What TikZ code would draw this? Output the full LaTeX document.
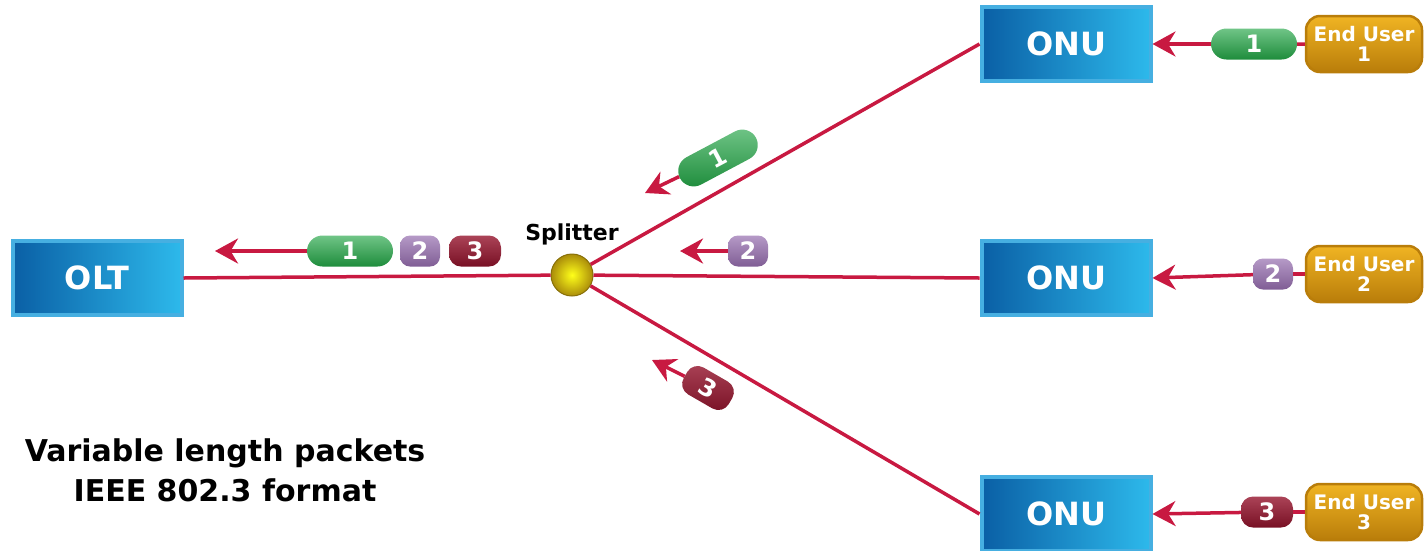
\documentclass[tikz,border=0pt]{standalone}
\usepackage{fontspec}
\setmainfont{DejaVu Sans}
\usetikzlibrary{positioning}
\usetikzlibrary{arrows.meta,shapes.misc}
\usepackage{color}

\definecolor{fibre}{RGB}{200,25,65}
\definecolor{boxdark}{RGB}{10,95,165}
\definecolor{boxlight}{RGB}{45,185,235}
\definecolor{boxrim}{RGB}{70,175,225}
\definecolor{pktgreen}{RGB}{35,165,70}
\definecolor{pktpurple}{RGB}{150,110,175}
\definecolor{pktred}{RGB}{150,20,45}
\definecolor{userlight}{RGB}{240,180,35}
\definecolor{userdark}{RGB}{185,125,10}
\definecolor{ballrim}{RGB}{170,140,10}

\begin{document}
\begin{tikzpicture}
[x=1pt, y=-1pt, >={Stealth[length=23pt,width=25pt]},
 unit/.style={rectangle, draw=boxrim, line width=4pt, left color=boxdark, right color=boxlight,
   minimum width=169pt, minimum height=74pt, text=white, font=\fontsize{32}{32}\selectfont\bfseries},
 user/.style={rectangle, rounded corners=14pt, draw=userdark, line width=2.5pt, top color=userlight,
   bottom color=userdark, minimum width=116pt, minimum height=56pt, inner sep=1pt, align=center,
   text=white, font=\fontsize{20}{20}\selectfont\bfseries},
 splitter/.style={circle, minimum size=42pt, inner sep=0pt, shading=radial, inner color=yellow!90!white,
   outer color=ballrim, draw=ballrim!80!black, line width=1pt},
 pkt/.style={text=white, font=\fontsize{24}{24}\selectfont\bfseries, minimum height=31pt, inner sep=0pt},
 pkt1/.style={pkt, rounded rectangle, minimum width=86pt, top color=pktgreen!65!white, bottom color=pktgreen!85!black},
 pkt2/.style={pkt, rectangle, rounded corners=10pt, minimum width=40pt, top color=pktpurple!70!white, bottom color=pktpurple!85!black},
 pkt3/.style={pkt, rectangle, rounded corners=12pt, minimum width=52pt, top color=pktred!80!white, bottom color=pktred!80!black},
 fibreline/.style={draw=fibre, line width=3.5pt},
 flow/.style={->, draw=fibre, line width=3.5pt, fill=fibre}]

\useasboundingbox (0,0) rectangle (1427,550);

% Central office and splitter:
\node[unit] (olt) at (97,278) {OLT};
\node[splitter] (split) at (572,275) {};
\node[above=5pt of split, font=\fontsize{22}{22}\selectfont\bfseries] (splitlbl) {Splitter};

% Network units and end users:
\node[unit] (onu1) at (1066,44)  {ONU};
\node[unit] (onu2) at (1066,278) {ONU};
\node[unit] (onu3) at (1066,514) {ONU};
\node[user] (user1) at (1364,44)  {End User\\1};
\node[user] (user2) at (1364,274) {End User\\2};
\node[user] (user3) at (1364,512) {End User\\3};

% Fibres:
\draw[fibreline] (olt.east) -- (split);
\draw[fibreline] (split) -- (onu1.west);
\draw[fibreline] (split) -- (onu2.west);
\draw[fibreline] (split) -- (onu3.west);

% Packets from the end users:
\node[pkt1] (u1) at (1254,44)  {1};
\node[pkt2] (u2) at (1273,274) {2};
\node[pkt3] (u3) at (1267,512) {3};
\draw[fibreline] (user1) -- (u1);
\draw[fibreline] (user2) -- (u2);
\draw[fibreline] (user3) -- (u3);
\draw[flow] (u1) -- (onu1.east);
\draw[flow] (u2) -- (onu2.east);
\draw[flow] (u3) -- (onu3.east);

% Packets on the branches:
\node[pkt1, rotate=28]  (b1) at (718,158) {1};
\node[pkt2]             (b2) at (748,251) {2};
\node[pkt3, rotate=-30] (b3) at (708,388) {3};
\coordinate (b1tip) at (645,193);
\coordinate (b2tip) at (680,251);
\coordinate (b3tip) at (652,360);
\draw[flow] (b1) -- (b1tip);
\draw[flow] (b2) -- (b2tip);
\draw[flow] (b3) -- (b3tip);

% Packets arriving at the OLT:
\node[pkt1] (t1) at (350,251) {1};
\node[pkt2] (t2) at (420,251) {2};
\node[pkt3] (t3) at (475,251) {3};
\coordinate (ttip) at (215,251);
\draw[flow] (t1) -- (ttip);

% Caption:
\node[align=center, font=\fontsize{30}{40}\selectfont\bfseries] (note) at (225,470)
  {Variable length packets\\IEEE 802.3 format};

\end{tikzpicture}
\end{document}
